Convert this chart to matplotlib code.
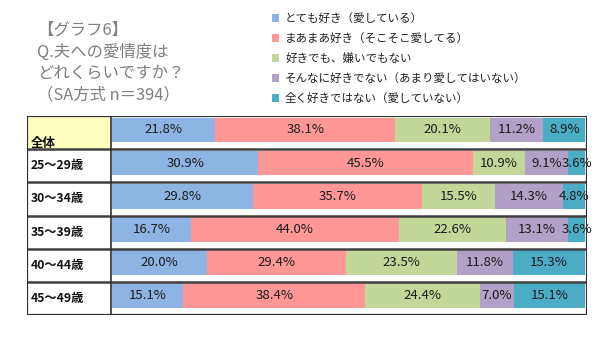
import matplotlib
matplotlib.use("Agg")
import matplotlib.pyplot as plt
from matplotlib.patches import Rectangle

plt.rcParams['font.family'] = ['Noto Sans CJK JP', 'DejaVu Sans']

categories = ["全体", "25～29歳", "30～34歳", "35～39歳", "40～44歳", "45～49歳"]
series_names = ["とても好き（愛している）", "まあまあ好き（そこそこ愛してる）", "好きでも、嫌いでもない",
                "そんなに好きでない（あまり愛してはいない）", "全く好きではない（愛していない）"]
s1 = [21.8, 30.9, 29.8, 16.7, 20.0, 15.1]
s2 = [38.1, 45.5, 35.7, 44.0, 29.4, 38.4]
s3 = [20.1, 10.9, 15.5, 22.6, 23.5, 24.4]
s4 = [11.2, 9.1, 14.3, 13.1, 11.8, 7.0]
s5 = [8.9, 3.6, 4.8, 3.6, 15.3, 15.1]
series = [s1, s2, s3, s4, s5]
colors = ["#8DB4E2", "#FF9797", "#C4D79B", "#B1A0C7", "#4BACC6"]
title_lines = ["【グラフ6】", "Q.夫への愛情度は", "どれくらいですか？", "（SA方式 n＝394）"]

W, H = 600, 342
fig = plt.figure(figsize=(6, 3.42), dpi=100)
fig.patch.set_facecolor("white")

# title
ty = [30, 52, 73, 95]
for t, y in zip(title_lines, ty):
    fig.text(37 / W, 1 - y / H, t, fontsize=11.8, color="#7F7F7F", va="center", ha="left")

# legend
ly = [18, 38, 58, 78, 98]
for name, c, y in zip(series_names, colors, ly):
    fig.patches.append(Rectangle((272 / W, 1 - (y + 3.5) / H), 7 / W, 7 / H, transform=fig.transFigure,
                                 facecolor=c, edgecolor="none"))
    fig.text(285 / W, 1 - y / H, name, fontsize=8.3, color="#222222", va="center", ha="left")

# table axes
left_px, right_px, top_px, bot_px = 27, 587, 116, 315
bar0_px, bar100_px = 112, 585
ppu = (bar100_px - bar0_px) / 100.0
xmin = (left_px - bar0_px) / ppu
xmax = 100 + (right_px - bar100_px) / ppu
ax = fig.add_axes([left_px / W, 1 - bot_px / H, (right_px - left_px) / W, (bot_px - top_px) / H])
ax.set_xlim(xmin, xmax)
n = len(categories)
ax.set_ylim(n, 0)
ax.axis("off")

ypos = [i + 0.42 for i in range(n)]
lefts = [0] * n
for vals, c in zip(series, colors):
    ax.barh(ypos, vals, left=lefts, height=0.74, color=c, edgecolor="none")
    for y, v, l in zip(ypos, vals, lefts):
        ax.text(l + v / 2, y, f"{v:.1f}%", ha="center", va="center", fontsize=9.5, color="#1A1A1A")
    lefts = [a + b for a, b in zip(lefts, vals)]

# label column
ax.add_patch(Rectangle((xmin, 0), -xmin, 1, facecolor="#FFFFC0", edgecolor="none", zorder=0))
for i, cat in enumerate(categories):
    if i == 0:
        ax.text(xmin + 0.8, 0.82, cat, ha="left", va="center", fontsize=9, color="#111111", fontweight="bold")
    else:
        ax.text(xmin + 0.8, i + 0.5, cat, ha="left", va="center", fontsize=8.8, color="#111111", fontweight="bold")

# grid lines
for i in range(1, n):
    ax.plot([xmin, xmax], [i, i], color="#404040", lw=1.8, solid_capstyle="butt")
ax.plot([-0.15, -0.15], [0, n], color="#303030", lw=1.2)
ax.add_patch(Rectangle((xmin, 0), xmax - xmin, n, facecolor="none", edgecolor="#303030", lw=1.6, zorder=5))

fig.savefig("out.png", dpi=100, facecolor="white")
